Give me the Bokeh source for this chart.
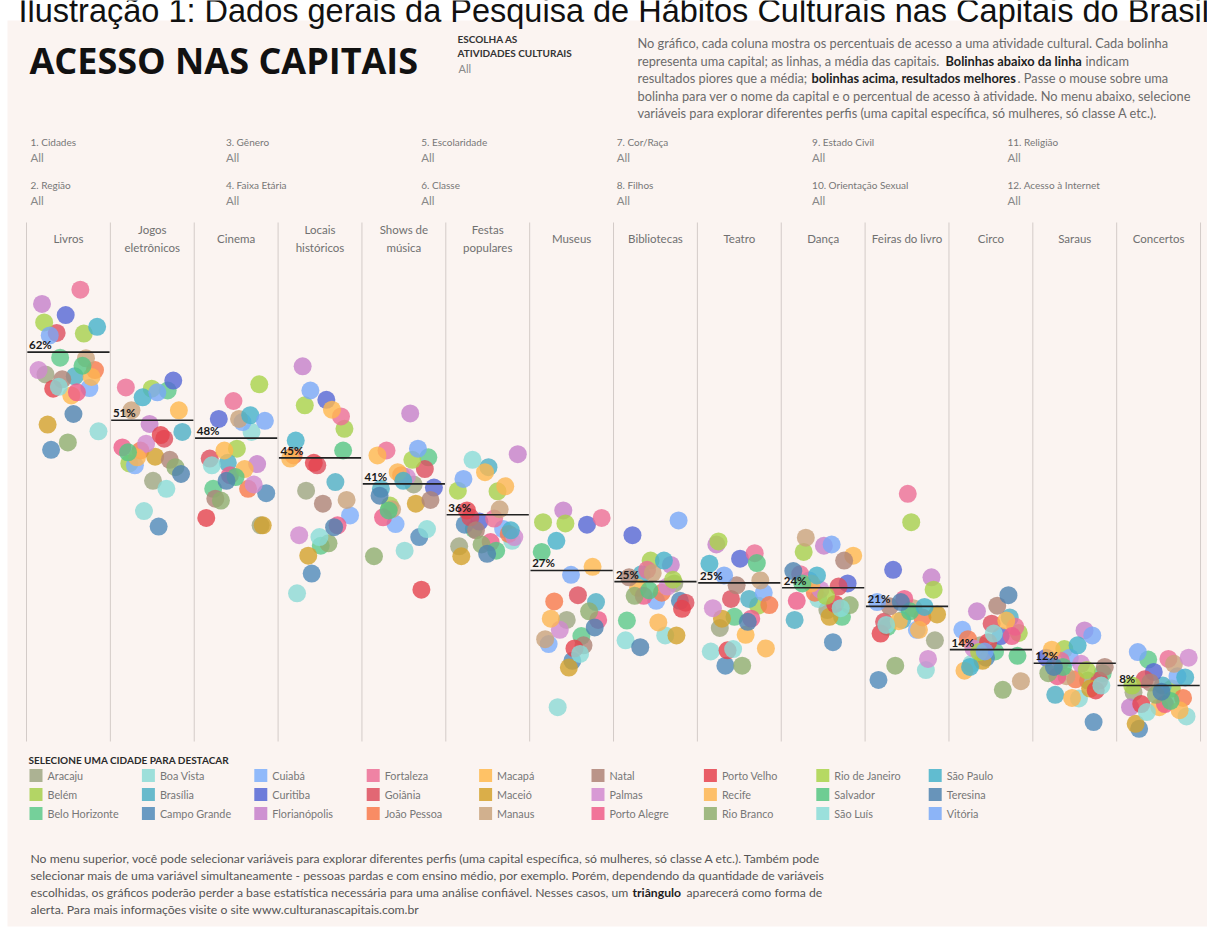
import math
from bokeh.plotting import figure
from bokeh.models import Range1d, ColumnDataSource
from bokeh.core.properties import value
from bokeh.embed import file_html
from bokeh.resources import INLINE

# ---------------- data ----------------
cities = ["Aracaju", "Belém", "Belo Horizonte", "Boa Vista", "Brasília", "Campo Grande",
          "Cuiabá", "Curitiba", "Florianópolis", "Fortaleza", "Goiânia", "João Pessoa",
          "Macapá", "Maceió", "Manaus", "Natal", "Palmas", "Porto Alegre", "Porto Velho",
          "Recife", "Rio Branco", "Rio de Janeiro", "Salvador", "São Luís", "São Paulo",
          "Teresina", "Vitória"]
city_colors = ["#9DA682", "#A6CF4C", "#5DC98B", "#8CDAD6", "#4EAFC6", "#4F8ABA",
               "#7DAEFC", "#5566D6", "#C57FCB", "#EC6E96", "#DD4D5E", "#F8794B",
               "#FFB84E", "#D3A12C", "#C9A37C", "#AE8377", "#D18AD0", "#EE5D8A", "#E5424E",
               "#FDB551", "#8FAE6F", "#A9D34A", "#55C683", "#89DCD8", "#45B2CA",
               "#4E82B0", "#78A8F8"]
activities = ["Livros", "Jogos\neletrônicos", "Cinema", "Locais\nhistóricos", "Shows de\nmúsica",
              "Festas\npopulares", "Museus", "Bibliotecas", "Teatro", "Dança",
              "Feiras do livro", "Circo", "Saraus", "Concertos"]

livros = [58.3, 64.9, 61.0, 49.1, 58.0, 46.1, 56.1, 67.9, 69.7, 72.0, 65.0, 59.0, 54.9, 50.2,
          60.9, 57.5, 59.0, 55.4, 56.0, 57.9, 47.3, 66.7, 59.7, 56.3, 66.0, 51.9, 64.6]
jogos = [41.1, 43.9, 55.7, 36.2, 49.0, 33.7, 43.6, 57.3, 50.3, 56.2, 47.9, 46.0, 52.5, 45.0,
         52.5, 44.5, 47.1, 46.5, 48.5, 44.9, 43.3, 56.0, 45.7, 39.8, 54.6, 42.2, 55.4]
cinema = [33.9, 46.3, 39.8, 49.0, 44.0, 39.1, 50.6, 51.1, 43.8, 54.0, 44.7, 39.8, 46.0, 33.9,
          51.1, 38.2, 40.5, 42.0, 35.1, 43.0, 37.9, 56.7, 41.7, 43.6, 51.7, 41.1, 50.8]
locais = [39.5, 49.5, 30.6, 22.9, 40.9, 26.1, 35.5, 54.2, 59.6, 51.5, 43.6, 45.2, 52.6, 29.0,
          38.0, 37.4, 32.3, 33.9, 44.0, 44.7, 31.0, 53.3, 46.0, 32.0, 47.6, 33.6, 55.7]
shows = [40.5, 37.1, 44.9, 29.8, 39.8, 32.0, 34.1, 40.0, 52.0, 46.0, 43.0, 42.0, 45.2, 37.4,
         36.5, 38.0, 41.7, 35.2, 23.5, 42.5, 28.9, 44.5, 36.3, 33.3, 41.1, 38.7, 46.3]
festas = [30.5, 39.4, 33.3, 31.4, 43.3, 34.0, 33.3, 34.5, 45.4, 35.0, 35.2, 32.5, 42.5, 28.9,
          36.5, 33.1, 32.0, 31.2, 36.3, 40.2, 30.8, 39.5, 29.8, 44.5, 33.1, 29.3, 41.4]
museus = [18.6, 34.4, 16.0, 4.5, 21.5, 12.0, 14.7, 34.0, 36.3, 35.1, 22.6, 21.6, 27.2, 10.9,
          15.5, 14.5, 17.0, 18.6, 14.0, 18.8, 20.0, 34.2, 29.6, 13.1, 31.4, 17.4, 25.9]
bibliotecas = [24.5, 28.2, 18.5, 16.1, 26.0, 21.7, 21.7, 32.3, 27.5, 26.7, 21.4, 23.0, 23.8, 16.1,
               26.2, 25.5, 24.0, 22.5, 20.4, 18.2, 22.5, 25.1, 23.4, 15.3, 28.2, 14.2, 34.7]
teatro = [17.3, 20.9, 19.1, 13.5, 22.0, 11.2, 23.0, 28.5, 30.8, 29.4, 22.0, 21.0, 16.2, 18.8,
          25.0, 24.2, 20.5, 18.8, 13.7, 14.0, 11.2, 31.3, 27.8, 13.9, 27.7, 18.3, 25.8]
danca = [20.2, 29.6, 19.1, 22.0, 18.6, 15.0, 25.0, 24.5, 30.6, 26.0, 24.0, 23.0, 29.0, 19.1,
         31.9, 28.2, 23.5, 21.7, 21.2, 24.5, 21.0, 22.5, 24.5, 20.5, 25.8, 26.5, 30.8]
feiras = [15.3, 34.4, 17.5, 10.5, 18.6, 8.9, 17.0, 26.7, 25.5, 39.0, 18.3, 19.0, 18.4, 19.5,
          20.5, 20.8, 12.3, 22.0, 16.4, 17.0, 11.2, 23.5, 20.0, 17.8, 20.7, 21.5, 21.5]
circo = [14.5, 16.5, 13.5, 11.5, 19.0, 12.5, 17.0, 16.0, 20.0, 17.5, 18.0, 15.5, 18.5, 12.0,
         8.7, 20.9, 14.0, 16.0, 15.0, 10.4, 7.3, 13.4, 12.8, 16.4, 11.0, 22.6, 13.5]
saraus = [8.8, 13.9, 10.0, 5.9, 6.5, 2.1, 12.5, 12.5, 16.9, 12.0, 8.8, 9.0, 13.8, 7.5,
          9.5, 11.0, 11.5, 9.5, 7.2, 6.0, 10.0, 10.5, 11.0, 8.0, 14.5, 11.0, 16.1]
concertos = [6.9, 7.5, 12.2, 3.0, 8.0, 1.0, 9.5, 10.2, 4.5, 12.3, 9.0, 6.0, 4.5, 1.8,
             11.5, 8.5, 12.5, 5.0, 5.0, 4.0, 6.5, 8.0, 5.5, 3.7, 9.3, 7.0, 13.4]
series = [livros, jogos, cinema, locais, shows, festas, museus, bibliotecas, teatro, danca,
          feiras, circo, saraus, concertos]
means = [61.9, 50.9, 48.0, 44.8, 40.6, 35.6, 26.6, 24.8, 24.6, 23.8, 20.8, 13.8, 11.6, 8.0]

filter_row1 = ["1. Cidades", "3. Gênero", "5. Escolaridade", "7. Cor/Raça", "9. Estado Civil", "11. Religião"]
filter_row2 = ["2. Região", "4. Faixa Etária", "6. Classe", "8. Filhos", "10. Orientação Sexual", "12. Acesso à Internet"]

# ---------------- layout constants ----------------
W, H = 1207, 933
X0, CW = 26.0, 83.86          # first column left edge, column width (px)
Y0, S = 734.5, 6.185          # pixel y of 0 %, pixels per percent

PANEL = "#FBF4F1"
FONT = "Lato"

p = figure(width=W, height=H, x_range=Range1d(0, W), y_range=Range1d(H, 0),
           output_backend="svg", toolbar_location=None,
           x_axis_location=None, y_axis_location=None, min_border=0,
           outline_line_color=None, background_fill_color="white", border_fill_color="white")
p.grid.visible = False
p.extra_x_ranges = {"col": Range1d((0 - X0) / CW, (W - X0) / CW)}
p.extra_y_ranges = {"pct": Range1d((Y0 - H) / S, Y0 / S)}


def txt(x, y, s, size, color, bold=False, font=FONT, align="left", baseline="middle"):
    p.text(x=[x], y=[y], text=[s], text_font=value(font), text_font_size=f"{size}px",
           text_color=color, text_font_style="bold" if bold else "normal",
           text_align=align, text_baseline=baseline)


# panel background
p.quad(left=[7], right=[W], top=[20], bottom=[926], fill_color=PANEL, line_color=None)

# cut-off page caption (its top lies above the page, as in the reference)
txt(18, 10, "Ilustração 1: Dados gerais da Pesquisa de Hábitos Culturais nas Capitais do Brasil",
    32.5, "#111111", font="Liberation Sans", baseline="alphabetic")

# header
txt(29, 60, "ACESSO NAS CAPITAIS", 36, "#111111", bold=True, font="Open Sans")
txt(457, 38, "ESCOLHA AS", 10, "#333333", bold=True)
txt(457, 52, "ATIVIDADES CULTURAIS", 10, "#333333", bold=True)
txt(458, 68, "All", 11, "#888888")

GR = "#6b6b6b"
BK = "#1e1e1e"
PX = 637
PS = 12.8
txt(PX, 42, "No gráfico, cada coluna mostra os percentuais de acesso a uma atividade cultural. Cada bolinha", PS, GR)
txt(PX, 60, "representa uma capital; as linhas, a média das capitais.", PS, GR)
txt(945, 60, "Bolinhas abaixo da linha", PS, BK, bold=True)
txt(1085, 60, "indicam", PS, GR)
txt(PX, 77, "resultados piores que a média;", PS, GR)
txt(811, 77, "bolinhas acima, resultados melhores", PS, BK, bold=True)
txt(1017, 77, ". Passe o mouse sobre uma", PS, GR)
txt(PX, 95, "bolinha para ver o nome da capital e o percentual de acesso à atividade. No menu abaixo, selecione", PS, GR)
txt(PX, 112, "variáveis para explorar diferentes perfis (uma capital específica, só mulheres, só classe A etc.).", PS, GR)

# filters
for k in range(6):
    fx = 30 + k * 195.4
    txt(fx, 141, filter_row1[k], 10, "#777777")
    txt(fx, 157, "All", 11.5, "#888888")
    txt(fx, 184, filter_row2[k], 10, "#777777")
    txt(fx, 200, "All", 11.5, "#888888")

# column separators
n = len(activities)
p.segment(x0=list(range(n + 1)), x1=list(range(n + 1)), y0=[222] * (n + 1), y1=[741] * (n + 1),
          line_color="#d3cbc8", line_width=1, x_range_name="col")

# column headers
p.text(x=[j + 0.5 for j in range(n)], y=[238] * n, text=activities, text_font=value(FONT),
       text_font_size="11.5px", text_color="#707070", text_align="center",
       text_baseline="middle", text_line_height=1.4, x_range_name="col")

# dots
xs, ys, cs = [], [], []
for j, vals in enumerate(series):
    for i, v in enumerate(vals):
        fr = (i * 0.6180339 + j * 0.381966 + 0.13) % 1.0
        xs.append(j + 0.5 + 0.37 * (2 * fr - 1))
        ys.append(v)
        cs.append(city_colors[i])
src = ColumnDataSource(dict(x=xs, y=ys, color=cs))
p.scatter(x="x", y="y", source=src, size=18, fill_color="color", fill_alpha=0.8,
          line_color=None, x_range_name="col", y_range_name="pct")

# mean lines and labels
p.segment(x0=[j + 0.01 for j in range(n)], x1=[j + 0.99 for j in range(n)], y0=means, y1=means,
          line_color="#222222", line_width=1.6, x_range_name="col", y_range_name="pct")
p.text(x=[j + 0.03 for j in range(n)], y=means, text=[f"{round(m)}%" for m in means],
       text_font=value(FONT), text_font_size="11.5px", text_font_style="bold",
       text_color="#1a1a1a", text_baseline="bottom", y_offset=-1,
       x_range_name="col", y_range_name="pct")

# legend
txt(28, 759, "SELECIONE UMA CIDADE PARA DESTACAR", 10, "#2a2a2a", bold=True)
lx, ly, lc, lt = [], [], [], []
for i, c in enumerate(cities):
    col, row = divmod(i, 3)
    lx.append(29 + col * 112.4)
    ly.append(775 + row * 19)
    lc.append(city_colors[i])
    lt.append(c)
p.rect(x=[v + 6.5 for v in lx], y=ly, width=13, height=13, fill_color=lc, fill_alpha=0.85,
       line_color=None)
p.text(x=[v + 18 for v in lx], y=ly, text=lt, text_font=value(FONT), text_font_size="10.8px",
       text_color="#777777", text_baseline="middle")

# footer
FS = 12.2
FG = "#555555"
txt(30, 858, "No menu superior, você pode selecionar variáveis para explorar diferentes perfis (uma capital específica, só mulheres, só classe A etc.). Também pode", FS, FG)
txt(30, 875, "selecionar mais de uma variável simultaneamente - pessoas pardas e com ensino médio, por exemplo. Porém, dependendo da quantidade de variáveis", FS, FG)
txt(30, 892, "escolhidas, os gráficos poderão perder a base estatística necessária para uma análise confiável. Nesses casos, um", FS, FG)
txt(632, 892, "triângulo", FS, BK, bold=True)
txt(686, 892, "aparecerá como forma de", FS, FG)
txt(30, 909, "alerta. Para mais informações visite o site www.culturanascapitais.com.br", FS, FG)

open("out.html", "w").write(file_html(p, INLINE))
